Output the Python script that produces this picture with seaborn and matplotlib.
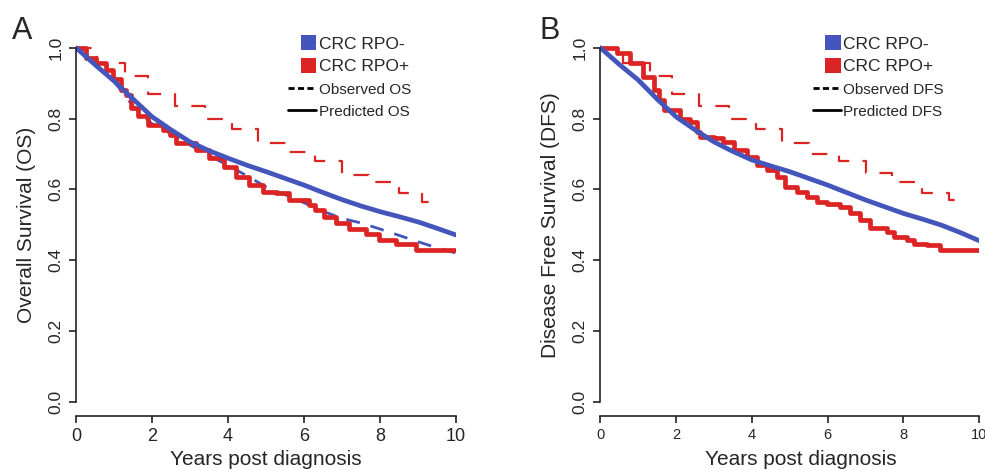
import pandas as pd
import seaborn as sns
import matplotlib.pyplot as plt
from matplotlib.patches import Patch
from matplotlib.lines import Line2D

# ---- data ----
# Panel A: overall survival
a_pred_neg_t = [0, 0.5, 1, 1.5, 2, 2.5, 3, 3.5, 4, 4.5, 5, 5.5, 6, 6.5, 7, 7.5, 8, 8.5, 9, 9.5, 10]
a_pred_neg_s = [1.0, 0.952, 0.906, 0.855, 0.805, 0.768, 0.734, 0.709, 0.688, 0.668, 0.65, 0.631, 0.612, 0.591, 0.571, 0.553, 0.537, 0.523, 0.508, 0.49, 0.471]

a_obs_neg_t = [0, 0.5, 1, 1.5, 2, 2.5, 3, 3.5, 4, 4.5, 5, 5.5, 6, 6.5, 7, 7.5, 8, 8.5, 9, 9.5, 10]
a_obs_neg_s = [1.0, 0.95, 0.905, 0.835, 0.785, 0.757, 0.725, 0.695, 0.668, 0.638, 0.607, 0.585, 0.562, 0.538, 0.518, 0.505, 0.488, 0.47, 0.452, 0.435, 0.42]

a_pred_pos_t = [0, 0.26, 0.53, 0.79, 0.96, 1.18, 1.32, 1.45, 1.62, 1.89, 2.28, 2.46, 2.63, 3.16, 3.5, 3.9, 4.21, 4.56, 4.91, 5.26, 5.6, 6.14, 6.3, 6.53, 6.84, 7.19, 7.63, 7.98, 8.42, 8.95, 10]
a_pred_pos_s = [1.0, 0.97, 0.956, 0.937, 0.913, 0.88, 0.866, 0.829, 0.806, 0.782, 0.768, 0.753, 0.73, 0.711, 0.688, 0.664, 0.636, 0.612, 0.593, 0.589, 0.57, 0.556, 0.541, 0.523, 0.504, 0.489, 0.475, 0.457, 0.447, 0.428, 0.428]

a_obs_pos_t = [0, 0.55, 1.3, 1.9, 2.6, 3.4, 4.1, 4.8, 5.6, 6.3, 7.0, 7.7, 8.5, 9.1, 9.6]
a_obs_pos_s = [1.0, 0.956, 0.92, 0.869, 0.836, 0.80, 0.77, 0.73, 0.705, 0.68, 0.64, 0.62, 0.59, 0.565, 0.565]

# Panel B: disease free survival
b_pred_neg_t = [0, 0.5, 1, 1.5, 2, 2.5, 3, 3.5, 4, 4.5, 5, 5.5, 6, 6.5, 7, 7.5, 8, 8.5, 9, 9.5, 10]
b_pred_neg_s = [1.0, 0.953, 0.909, 0.855, 0.805, 0.768, 0.734, 0.707, 0.683, 0.666, 0.65, 0.631, 0.612, 0.591, 0.57, 0.551, 0.532, 0.516, 0.499, 0.478, 0.455]

b_obs_neg_t = [0, 0.5, 1, 1.5, 2, 2.5, 3, 3.5, 4, 4.5, 5, 5.5, 6, 6.5, 7, 7.5, 8, 8.5, 9, 9.5, 10]
b_obs_neg_s = [1.0, 0.952, 0.907, 0.853, 0.803, 0.767, 0.733, 0.706, 0.682, 0.664, 0.648, 0.629, 0.61, 0.589, 0.569, 0.55, 0.531, 0.515, 0.498, 0.477, 0.453]

b_pred_pos_t = [0, 0.44, 0.79, 1.14, 1.41, 1.54, 1.67, 2.11, 2.37, 2.55, 2.64, 2.99, 3.25, 3.52, 3.87, 4.13, 4.4, 4.66, 4.88, 5.19, 5.45, 5.72, 5.98, 6.33, 6.6, 6.86, 7.12, 7.56, 7.74, 8.09, 8.27, 8.62, 8.97, 10]
b_pred_pos_s = [1.0, 0.985, 0.956, 0.918, 0.88, 0.852, 0.824, 0.80, 0.79, 0.763, 0.749, 0.744, 0.734, 0.711, 0.692, 0.669, 0.654, 0.636, 0.608, 0.593, 0.579, 0.565, 0.56, 0.551, 0.532, 0.513, 0.49, 0.48, 0.466, 0.457, 0.447, 0.443, 0.428, 0.428]

b_obs_pos_t = [0, 0.6, 1.3, 1.9, 2.6, 3.4, 4.1, 4.8, 5.5, 6.3, 7.0, 7.7, 8.5, 9.2, 9.6]
b_obs_pos_s = [1.0, 0.956, 0.92, 0.87, 0.835, 0.80, 0.77, 0.73, 0.70, 0.68, 0.645, 0.62, 0.59, 0.57, 0.57]

BLUE = "#4455bb"
RED = "#dd2424"

sns.set_style("white")
plt.rcParams["font.family"] = ["Liberation Sans", "DejaVu Sans"]

fig = plt.figure(figsize=(9.85, 4.71), dpi=100)
axA = fig.add_axes([0.0772, 0.1168, 0.3858, 0.812])
axB = fig.add_axes([0.6094, 0.1168, 0.3848, 0.812])


def draw_panel(ax, pred_neg, obs_neg, pred_pos, obs_pos, ylab, lab_short, tick_fs, leg_x):
    df_pn = pd.DataFrame({"t": pred_neg[0], "s": pred_neg[1]})
    df_on = pd.DataFrame({"t": obs_neg[0], "s": obs_neg[1]})
    df_pp = pd.DataFrame({"t": pred_pos[0], "s": pred_pos[1]})
    df_op = pd.DataFrame({"t": obs_pos[0], "s": obs_pos[1]})

    sns.lineplot(data=df_on, x="t", y="s", ax=ax, color=BLUE, lw=2.0,
                 linestyle=(0, (5, 4)))
    sns.lineplot(data=df_op, x="t", y="s", ax=ax, color=RED, lw=1.6,
                 linestyle=(0, (7, 6)), drawstyle="steps-post")
    sns.lineplot(data=df_pp, x="t", y="s", ax=ax, color=RED, lw=3.4,
                 drawstyle="steps-post")
    sns.lineplot(data=df_pn, x="t", y="s", ax=ax, color=BLUE, lw=3.4)

    ax.set_xlim(0, 10)
    ax.set_ylim(-0.04, 1.04)
    ax.set_xticks([0, 2, 4, 6, 8, 10])
    ax.set_yticks([0, 0.2, 0.4, 0.6, 0.8, 1.0])
    ax.set_yticklabels(["0.0", "0.2", "0.4", "0.6", "0.8", "1.0"], rotation=90, va="center")
    for s in ["top", "right"]:
        ax.spines[s].set_visible(False)
    ax.spines["left"].set_bounds(0, 1)
    ax.spines["bottom"].set_bounds(0, 10)
    for s in ["left", "bottom"]:
        ax.spines[s].set_color("#222222")
        ax.spines[s].set_linewidth(1.2)
    ax.tick_params(bottom=True, left=True, direction="out", length=5, width=1.2,
                   color="#222222", labelsize=tick_fs, pad=4)
    ax.tick_params(axis="y", labelsize=12.5, pad=4)
    ax.set_xlabel("Years post diagnosis", fontsize=15, labelpad=4)
    ax.set_ylabel(ylab, fontsize=15, labelpad=9)

    handles = [Patch(facecolor=BLUE, edgecolor="none"),
               Patch(facecolor=RED, edgecolor="none"),
               Line2D([0], [0], color="black", lw=2, linestyle=(0, (2.2, 1.2))),
               Line2D([0], [0], color="black", lw=2)]
    labels = ["CRC RPO-", "CRC RPO+", "Observed " + lab_short, "Predicted " + lab_short]
    leg = ax.legend(handles, labels, loc="upper right", frameon=False,
                    bbox_to_anchor=(leg_x, 1.01), handlelength=1.6, handletextpad=0.15,
                    labelspacing=0.42, fontsize=12.5, borderaxespad=0)
    for i, txt in enumerate(leg.get_texts()):
        if i >= 2:
            txt.set_fontsize(11)
    for p in leg.legend_handles[:2]:
        w = p.get_width()
        p.set_x(p.get_x() + w - 11)
        p.set_width(11)
        p.set_y(p.get_y() - 1.2)
        p.set_height(11)


draw_panel(axA, (a_pred_neg_t, a_pred_neg_s), (a_obs_neg_t, a_obs_neg_s),
           (a_pred_pos_t, a_pred_pos_s), (a_obs_pos_t, a_obs_pos_s),
           "Overall Survival (OS)", "OS", 13, 0.90)
draw_panel(axB, (b_pred_neg_t, b_pred_neg_s), (b_obs_neg_t, b_obs_neg_s),
           (b_pred_pos_t, b_pred_pos_s), (b_obs_pos_t, b_obs_pos_s),
           "Disease Free Survival (DFS)", "DFS", 10.5, 0.925)
axA.xaxis.set_label_coords(0.5, -0.09)
axB.xaxis.set_label_coords(0.53, -0.09)

fig.text(0.012, 0.965, "A", fontsize=22, va="top", ha="left")
fig.text(0.548, 0.965, "B", fontsize=22, va="top", ha="left")

fig.savefig("out.png", dpi=100, facecolor="white")
